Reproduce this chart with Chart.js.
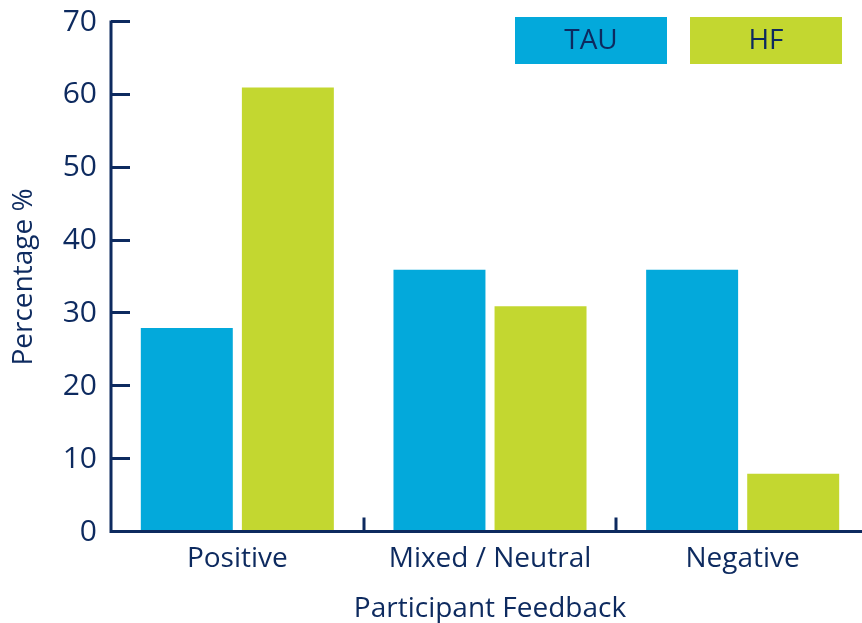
<!DOCTYPE html>
<html>
<head>
<meta charset="utf-8">
<script src="https://cdn.jsdelivr.net/npm/chart.js@4/dist/chart.umd.min.js"></script>
<style>
  html, body { margin: 0; padding: 0; background: #ffffff; overflow: hidden; }
  #wrap { width: 869px; height: 623px; position: relative; }
</style>
</head>
<body>
<div id="wrap"><canvas id="chart"></canvas></div>
<script>
// Share of participants by feedback type, per study arm
const categories = ['Positive', 'Mixed / Neutral', 'Negative'];
const tauValues = [28, 36, 36];
const hfValues = [61, 31, 8];
const seriesNames = ['TAU', 'HF'];
const yTicks = [0, 10, 20, 30, 40, 50, 60, 70];

const NAVY = '#0d2a5f';
const BLUE = '#03a9db';
const LIME = '#c3d730';
const FONT = '"Open Sans", Lato, sans-serif';

// Axis lines plus short tick marks pointing into the plot area
const axesAndTicks = {
  id: 'axesAndTicks',
  afterDatasetsDraw(chart) {
    const { ctx, chartArea, scales } = chart;
    const ax = chartArea.left;
    const base = chartArea.bottom - 0.5;
    ctx.save();
    ctx.strokeStyle = NAVY;
    ctx.lineWidth = 3;
    ctx.beginPath();
    // value axis
    ctx.moveTo(ax, scales.y.getPixelForValue(yTicks[yTicks.length - 1]) - 1.5);
    ctx.lineTo(ax, base + 1.5);
    // category axis
    ctx.moveTo(ax - 1.5, base);
    ctx.lineTo(chartArea.right, base);
    scales.y.ticks.forEach((t) => {
      const py = Math.round(scales.y.getPixelForValue(t.value)) - 0.5;
      ctx.moveTo(ax, py);
      ctx.lineTo(ax + 19, py);
    });
    const n = categories.length;
    for (let i = 0; i < n - 1; i++) {
      const px = Math.round((scales.x.getPixelForValue(i) + scales.x.getPixelForValue(i + 1)) / 2);
      ctx.moveTo(px, base);
      ctx.lineTo(px, base - 14);
    }
    ctx.stroke();
    ctx.restore();
  }
};

// Legend drawn as filled boxes with the series name inside
const boxLegend = {
  id: 'boxLegend',
  afterDraw(chart) {
    const { ctx, chartArea } = chart;
    const boxW = 152, boxH = 47, gap = 23, top = 17;
    const sets = chart.data.datasets;
    let x = chartArea.right - 27 - sets.length * boxW - (sets.length - 1) * gap;
    ctx.save();
    sets.forEach((ds) => {
      ctx.fillStyle = ds.backgroundColor;
      ctx.fillRect(x, top, boxW, boxH);
      ctx.fillStyle = NAVY;
      ctx.font = '28px ' + FONT;
      ctx.textAlign = 'center';
      ctx.textBaseline = 'middle';
      ctx.fillText(ds.label, x + boxW / 2, top + boxH / 2 + 1);
      x += boxW + gap;
    });
    ctx.restore();
  }
};

new Chart(document.getElementById('chart'), {
  type: 'bar',
  data: {
    labels: categories,
    datasets: [
      { label: seriesNames[0], data: tauValues, backgroundColor: BLUE },
      { label: seriesNames[1], data: hfValues, backgroundColor: LIME }
    ]
  },
  options: {
    responsive: true,
    maintainAspectRatio: false,
    animation: false,
    layout: { padding: { top: 22, right: 0, left: 0, bottom: 0 } },
    datasets: { bar: { categoryPercentage: 0.8, barPercentage: 0.91 } },
    plugins: { legend: { display: false }, tooltip: { enabled: false } },
    scales: {
      x: {
        grid: { display: false, drawTicks: false },
        border: { display: false },
        ticks: { color: NAVY, font: { family: FONT, size: 28 }, padding: 10 },
        title: { display: true, text: 'Participant Feedback', color: NAVY,
                 font: { family: FONT, size: 28 }, padding: { top: 0, bottom: -3 } },
        afterFit(scale) {
          scale.height = 91;
          scale.paddingLeft = 0; scale.paddingRight = 0;
        }
      },
      y: {
        min: 0, max: 70,
        afterBuildTicks(scale) { scale.ticks = yTicks.map((v) => ({ value: v })); },
        grid: { display: false, drawTicks: false },
        border: { display: false },
        ticks: { color: NAVY, font: { family: FONT, size: 30 }, padding: 14 },
        title: { display: true, text: 'Percentage %', color: NAVY,
                 font: { family: FONT, size: 28 }, padding: { top: 7, bottom: 0 } },
        afterFit(scale) {
          scale.width = 111;
          scale.paddingTop = 0; scale.paddingBottom = 0;
        }
      }
    }
  },
  plugins: [axesAndTicks, boxLegend]
});
</script>
</body>
</html>
